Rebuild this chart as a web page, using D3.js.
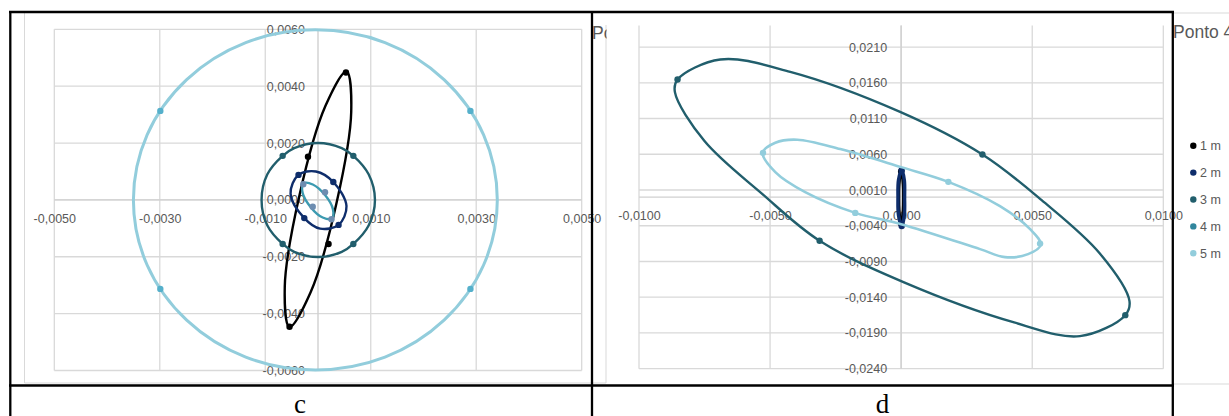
<!DOCTYPE html>
<html><head><meta charset="utf-8">
<script src="https://cdn.jsdelivr.net/npm/d3@7"></script>
<style>body{margin:0;background:#fff}svg{display:block}</style>
</head><body><svg id="chart" width="1229" height="416"></svg>
<script>
// ---------- DATA ----------
const seriesNames = ["1 m", "2 m", "3 m", "4 m", "5 m"];
const chartTitle = "Ponto 4";
const captions = ["c", "d"];

// panel c tick values and labels
const cXTicks = [-0.005, -0.003, -0.001, 0.001, 0.003, 0.005];
const cXLabels = ["-0,0050", "-0,0030", "-0,0010", "0,0010", "0,0030", "0,0050"];
const cYTicks = [-0.006, -0.004, -0.002, 0, 0.002, 0.004, 0.006];
const cYLabels = ["-0,0060", "-0,0040", "-0,0020", "0,0000", "0,0020", "0,0040", "0,0060"];
// panel d tick values and labels
const dXTicks = [-0.01, -0.005, 0, 0.005, 0.01];
const dXLabels = ["-0,0100", "-0,0050", "0,0000", "0,0050", "0,0100"];
const dYTicks = [-0.024, -0.019, -0.014, -0.009, -0.004, 0.001, 0.006, 0.011, 0.016, 0.021];
const dYLabels = ["-0,0240", "-0,0190", "-0,0140", "-0,0090", "-0,0040", "0,0010", "0,0060", "0,0110", "0,0160", "0,0210"];

// panel c series (x, y)
const cCurve1m = [[0.00054,0.00452],[0.00063,0.00310],[0.00035,-0.00012],[-0.00014,-0.00325],[-0.00054,-0.00447],[-0.00063,-0.00305],[-0.00035,0.00017],[0.00014,0.00330]];
const cMarks1m = [[0.00053,0.00448],[-0.00019,0.00152],[0.00020,-0.00155],[-0.00054,-0.00446]];
const cCurve2m = [[-0.00004,0.00100],[0.00029,0.00063],[0.00054,-0.00022],[0.00039,-0.00088],[0.00004,-0.00101],[-0.00026,-0.00064],[-0.00052,0.00021],[-0.00037,0.00088]];
const cMarks2m = [[0.00029,0.00063],[0.00039,-0.00088],[-0.00026,-0.00064],[-0.00037,0.00088]];
const cCurve3m = [[0,0.0020],[0.00045,0.00182],[0.00067,0.00155],[0.00096,0.0009],[0.00108,0],[0.00096,-0.0009],[0.00067,-0.00155],[0.00045,-0.00183],[0,-0.00201],[-0.00045,-0.00183],[-0.00067,-0.00155],[-0.00096,-0.0009],[-0.00107,0],[-0.00096,0.0009],[-0.00067,0.00155],[-0.00045,0.00182]];
const cMarks3m = [[0.00067,0.00155],[0.00067,-0.00155],[-0.00067,-0.00155],[-0.00067,0.00155]];
const cCurve4m = [[0.000265,-0.000654],[0.000283,-0.000327],[0.000133,0.000169],[-0.000099,0.000542],[-0.000275,0.000577],[-0.000292,0.00025],[-0.000142,-0.000246],[0.000089,-0.000619]];
const cMarks4m = [[-0.000279,0.000549],[0.000133,0.000267],[-0.0001,-0.000239],[0.000255,-0.00068]];
const cCurve5m = [[-0.00005,0.00598],[0.00127,0.00553],[0.00239,0.00423],[0.00314,0.00229],[0.00340,0],[0.00314,-0.00229],[0.00239,-0.00423],[0.00127,-0.00553],[-0.00005,-0.00598],[-0.00137,-0.00553],[-0.00249,-0.00423],[-0.00324,-0.00229],[-0.00350,0],[-0.00324,0.00229],[-0.00249,0.00423],[-0.00137,0.00553]];
const cMarks5m = [[0.00289,0.00313],[0.00289,-0.00313],[-0.00299,-0.00313],[-0.00299,0.00313]];

// panel d series (x, y)
const dCurve1m = [[0,0.0036],[0.00007,0.0018],[0.00008,0],[0.00007,-0.0018],[0,-0.0037],[-0.00007,-0.0018],[-0.00008,0],[-0.00007,0.0018]];
const dMarks1m = [[0,0.0036],[0,-0.0037]];
const dCurve2m = [[0.00002,0.00385],[0.00012,0.00238],[0.00013,0],[0.00012,-0.00252],[0.00002,-0.00406],[-0.0001,-0.00252],[-0.00012,0],[-0.0001,0.00238]];
const dMarks2m = [[0.00002,0.00378],[0.00002,-0.00404]];
const dCurve3m = [[-0.00690,0.01926],[-0.00423,0.01753],[-0.00004,0.01193],[0.00310,0.00597],[0.00536,-0.00042],[0.00758,-0.00788],[0.00871,-0.01455],[0.00855,-0.01651],[0.00682,-0.01944],[0.00431,-0.01753],[0.00011,-0.01193],[-0.00311,-0.00611],[-0.00529,0.00042],[-0.00751,0.00788],[-0.00863,0.01469],[-0.00853,0.01646]];
const dMarks3m = [[0.00310,0.00597],[0.00855,-0.01651],[-0.00311,-0.00611],[-0.00853,0.01646]];
const dCurve5m = [[-0.00528,0.00622],[-0.00480,0.00762],[-0.00396,0.00804],[-0.00232,0.00672],[0,0.00420],[0.00180,0.00214],[0.00377,-0.00126],[0.00492,-0.00448],[0.00533,-0.00664],[0.00484,-0.00797],[0.00396,-0.00839],[0.00301,-0.00727],[0,-0.00378],[-0.00175,-0.00220],[-0.00366,0.00070],[-0.00480,0.00350]];
const dMarks5m = [[-0.00527,0.00620],[0.00180,0.00214],[-0.00175,-0.00220],[0.00530,-0.00650]];

// ---------- STYLE / LAYOUT ----------
const FONT = "'Liberation Sans', Arial, sans-serif";
const GRID = "#d9d9d9";
const LABEL = "#595959";
const lineColors = ["#000000", "#0e2d6b", "#215e6c", "#3c9ab0", "#92cddc"];
const legendColors = ["#000000", "#0e2d6b", "#215e6c", "#31869d", "#92cddc"];

const svg = d3.select("#chart");
svg.append("rect").attr("width", 1229).attr("height", 416).attr("fill", "#fff");

// faint chart-area borders
const faint = [
  [24.5, 12, 24.5, 383], [24.5, 383, 606, 383], [606, 25, 606, 383],
  [1173, 13, 1229, 13], [1173, 384, 1229, 384]
];
svg.selectAll(".faint").data(faint).join("line").attr("class", "faint")
  .attr("x1", d => d[0]).attr("y1", d => d[1]).attr("x2", d => d[2]).attr("y2", d => d[3])
  .attr("stroke", GRID).attr("stroke-width", 1);

function drawPanel(cfg) {
  const x = d3.scaleLinear().domain(cfg.xDomain).range(cfg.xRange);
  const y = d3.scaleLinear().domain(cfg.yDomain).range(cfg.yRange);
  const g = svg.append("g");
  const [px0, px1] = cfg.xRange;
  const [pyB, pyT] = cfg.yRange;
  g.selectAll(".vg").data(cfg.xTicks).join("line").attr("class", "vg")
    .attr("x1", d => x(d)).attr("x2", d => x(d)).attr("y1", pyT).attr("y2", pyB)
    .attr("stroke", GRID).attr("stroke-width", 1.3);
  g.selectAll(".hg").data(cfg.yTicks).join("line").attr("class", "hg")
    .attr("y1", d => y(d)).attr("y2", d => y(d)).attr("x1", px0).attr("x2", px1)
    .attr("stroke", GRID).attr("stroke-width", 1.3);
  // axis lines through the origin
  g.append("line").attr("x1", px0).attr("x2", px1).attr("y1", y(0)).attr("y2", y(0))
    .attr("stroke", "#d0d0d0").attr("stroke-width", 1.4);
  g.append("line").attr("x1", x(0)).attr("x2", x(0)).attr("y1", pyT).attr("y2", pyB)
    .attr("stroke", "#d0d0d0").attr("stroke-width", 1.4);

  const styleText = a => a.selectAll("text").attr("fill", LABEL)
    .style("font-family", FONT).style("font-size", "12.5px");
  g.append("g").attr("transform", `translate(0,${y(0)})`)
    .call(d3.axisBottom(x).tickValues(cfg.xTicks)
      .tickFormat(d => cfg.xLabels[cfg.xTicks.indexOf(d)]).tickSize(0).tickPadding(14))
    .call(a => a.select(".domain").remove()).call(styleText);
  g.append("g").attr("transform", `translate(${x(0)},0)`)
    .call(d3.axisLeft(y).tickValues(cfg.yTicks)
      .tickFormat(d => cfg.yLabels[cfg.yTicks.indexOf(d)]).tickSize(0).tickPadding(cfg.yPad))
    .call(a => a.select(".domain").remove()).call(styleText);

  const line = d3.line().x(d => x(d[0])).y(d => y(d[1]))
    .curve(d3.curveCatmullRomClosed.alpha(0.5));
  cfg.series.forEach(s => {
    g.append("path").attr("d", line(s.curve)).attr("fill", "none")
      .attr("stroke", s.color).attr("stroke-width", s.width).attr("stroke-linejoin", "round");
    g.selectAll(null).data(s.marks).join("circle")
      .attr("cx", d => x(d[0])).attr("cy", d => y(d[1])).attr("r", 3.2).attr("fill", s.mcolor);
  });
}

drawPanel({
  xDomain: [-0.005, 0.005], xRange: [54.3, 581.7],
  yDomain: [-0.006, 0.006], yRange: [370.5, 29.3],
  xTicks: cXTicks, xLabels: cXLabels, yTicks: cYTicks, yLabels: cYLabels, yPad: 13,
  series: [
    { curve: cCurve1m, marks: cMarks1m, color: lineColors[0], mcolor: "#000000", width: 2.4 },
    { curve: cCurve2m, marks: cMarks2m, color: lineColors[1], mcolor: "#0e2d6b", width: 2.4 },
    { curve: cCurve3m, marks: cMarks3m, color: lineColors[2], mcolor: "#215e6c", width: 2.4 },
    { curve: cCurve4m, marks: cMarks4m, color: lineColors[3], mcolor: "#6e8db0", width: 2.4 },
    { curve: cCurve5m, marks: cMarks5m, color: lineColors[4], mcolor: "#55b0cb", width: 3 }
  ]
});

drawPanel({
  xDomain: [-0.01, 0.01], xRange: [639, 1163.3],
  yDomain: [-0.024, 0.024], yRange: [368.7, 25.6],
  xTicks: dXTicks, xLabels: dXLabels, yTicks: dYTicks, yLabels: dYLabels, yPad: 14,
  series: [
    { curve: dCurve1m, marks: dMarks1m, color: lineColors[0], mcolor: "#000000", width: 2.5 },
    { curve: dCurve2m, marks: dMarks2m, color: lineColors[1], mcolor: "#0e2d6b", width: 3.5 },
    { curve: dCurve3m, marks: dMarks3m, color: lineColors[2], mcolor: "#215e6c", width: 2.4 },
    { curve: dCurve5m, marks: dMarks5m, color: lineColors[4], mcolor: "#92cddc", width: 2.6 }
  ]
});

// clipped titles of neighbouring charts
svg.append("clipPath").attr("id", "clipPo").append("rect")
  .attr("x", 590).attr("y", 0).attr("width", 16.5).attr("height", 60);
svg.append("text").attr("x", 592).attr("y", 39).attr("clip-path", "url(#clipPo)")
  .attr("fill", LABEL).style("font-family", FONT).style("font-size", "17.5px").text(chartTitle);
svg.append("text").attr("x", 1173).attr("y", 38)
  .attr("fill", LABEL).style("font-family", FONT).style("font-size", "17.5px").text(chartTitle);

// legend
const leg = svg.append("g");
seriesNames.forEach((n, i) => {
  const yy = 145.7 + i * 26.9;
  leg.append("circle").attr("cx", 1193.3).attr("cy", yy).attr("r", 3.2).attr("fill", legendColors[i]);
  leg.append("text").attr("x", 1200).attr("y", yy).attr("dy", "0.35em")
    .attr("fill", LABEL).style("font-family", FONT).style("font-size", "12.5px").text(n);
});

// table borders
const borders = [
  [9, 12, 1174, 12], [10.3, 11, 10.3, 416], [592, 11, 592, 416],
  [1172.8, 11, 1172.8, 416], [9, 385.5, 1174, 385.5]
];
svg.selectAll(".border").data(borders).join("line").attr("class", "border")
  .attr("x1", d => d[0]).attr("y1", d => d[1]).attr("x2", d => d[2]).attr("y2", d => d[3])
  .attr("stroke", "#000").attr("stroke-width", 2.3);

// captions
[[300, captions[0]], [882.5, captions[1]]].forEach(([cx, t]) => {
  svg.append("text").attr("x", cx).attr("y", 412.5).attr("text-anchor", "middle")
    .attr("fill", "#000").style("font-family", "'Liberation Serif', 'Times New Roman', serif")
    .style("font-size", "27px").text(t);
});
</script></body></html>
